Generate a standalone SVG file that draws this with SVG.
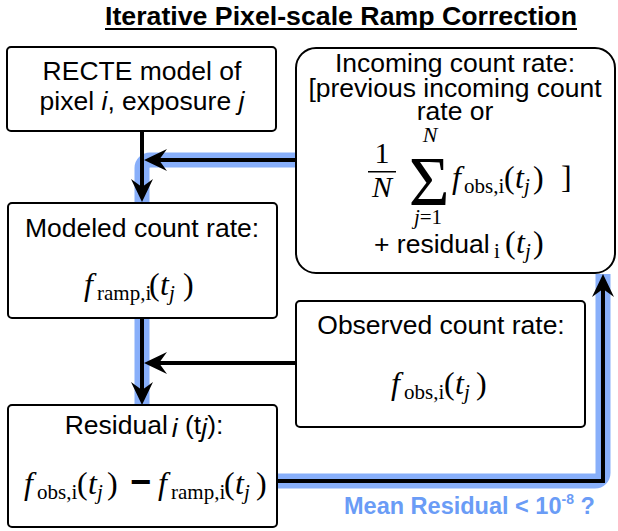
<svg xmlns="http://www.w3.org/2000/svg" width="618" height="531" viewBox="0 0 618 531">
<style>
.box{fill:#fff;stroke:#000;stroke-width:2}
.t{font-family:"Liberation Sans",Arial,Helvetica,sans-serif;font-size:26.5px;fill:#000}
.m{font-family:"Liberation Serif","Times New Roman",serif;font-size:32px;fill:#000}
.it{font-style:italic}
.sub{font-size:21px}
.band{fill:none;stroke:#88affa;stroke-width:15;stroke-linejoin:round}
.wire{fill:none;stroke:#000;stroke-width:4}
</style>
<defs>
<marker id="ah" viewBox="-24 -12 25 24" markerWidth="25" markerHeight="24" refX="-13" refY="0" orient="auto" markerUnits="userSpaceOnUse">
<path d="M0,0 L-23,-11 L-15,0 L-23,11 Z" fill="#000"/>
</marker>
</defs>

<g id="title">
<text x="105" y="25" font-family="Liberation Sans,Arial,sans-serif" font-weight="bold" font-size="26" textLength="472" lengthAdjust="spacingAndGlyphs">Iterative Pixel-scale Ramp Correction</text>
<rect x="105" y="28" width="472" height="2" fill="#000"/>
</g>

<g id="recte">
<rect class="box" x="7" y="47" width="269" height="84" rx="4"/>
<text class="t" x="142" y="80" text-anchor="middle">RECTE model of</text>
<text class="t" x="142" y="110" text-anchor="middle">pixel <tspan class="it">i</tspan>, exposure <tspan class="it">j</tspan></text>
</g>

<g id="incoming">
<rect class="box" x="296" y="48" width="319" height="225" rx="20"/>
<text class="t" x="455" y="72" text-anchor="middle">Incoming count rate:</text>
<text class="t" x="455" y="97" text-anchor="middle">[previous incoming count</text>
<text class="t" x="455" y="120" text-anchor="middle">rate or</text>
<text class="m it" x="430" y="142" style="font-size:22px" text-anchor="middle">N</text>
<text class="m" x="382" y="163" style="font-size:30px" text-anchor="middle">1</text>
<rect x="368" y="171" width="28" height="1.5" fill="#000"/>
<text class="m" x="382" y="197" style="font-size:30px;font-style:italic" text-anchor="middle">N</text>
<text class="m" x="429" y="205" style="font-size:70px" text-anchor="middle">Σ</text>
<text class="m" x="428" y="224" style="font-size:21px" text-anchor="middle"><tspan class="it">j</tspan>=1</text>
<text class="m" y="188"><tspan class="it" x="452">f</tspan><tspan class="sub" x="464" dy="5">obs,i</tspan><tspan x="504" dy="-5">(</tspan><tspan class="it" x="515">t</tspan><tspan class="it sub" x="524" dy="5">j</tspan><tspan x="533" dy="-5">)</tspan><tspan x="561">]</tspan></text>
<text class="t" x="374" y="253">+ residual</text>
<text class="m" y="253"><tspan class="sub" x="494" dy="5">i</tspan><tspan x="505" dy="-5">(</tspan><tspan class="it" x="516">t</tspan><tspan class="it sub" x="525" dy="5">j</tspan><tspan x="533" dy="-5">)</tspan></text>
</g>

<g id="modeled">
<rect class="box" x="8" y="203" width="269" height="115" rx="4"/>
<text class="t" x="142" y="237" text-anchor="middle">Modeled count rate:</text>
<text class="m" y="295"><tspan class="it" x="84">f</tspan><tspan class="sub" x="97" dy="5">ramp,i</tspan><tspan x="149" dy="-5">(</tspan><tspan class="it" x="160">t</tspan><tspan class="it sub" x="169" dy="5">j</tspan><tspan x="183" dy="-5">)</tspan></text>
</g>

<g id="observed">
<rect class="box" x="296" y="301" width="289" height="126" rx="4"/>
<text class="t" x="441" y="334" text-anchor="middle">Observed count rate:</text>
<text class="m" y="394"><tspan class="it" x="391">f</tspan><tspan class="sub" x="404" dy="5">obs,i</tspan><tspan x="444" dy="-5">(</tspan><tspan class="it" x="455">t</tspan><tspan class="it sub" x="464" dy="5">j</tspan><tspan x="476" dy="-5">)</tspan></text>
</g>

<g id="residual">
<rect class="box" x="8" y="405" width="269" height="122" rx="4"/>
<text class="t" x="144" y="434" text-anchor="middle">Residual<tspan class="it" dx="4" dy="3">i</tspan><tspan dy="-3"> (t</tspan><tspan class="it" dy="3">j</tspan><tspan dy="-3">):</tspan></text>
<text class="m" y="494"><tspan class="it" x="24">f</tspan><tspan class="sub" x="37" dy="5">obs,i</tspan><tspan x="77" dy="-5">(</tspan><tspan class="it" x="88">t</tspan><tspan class="it sub" x="97" dy="5">j</tspan><tspan x="107" dy="-5">)</tspan></text>
<text x="130" y="494" font-family="Liberation Sans,Arial,sans-serif" font-weight="bold" font-size="36">−</text>
<text class="m" y="494"><tspan class="it" x="158">f</tspan><tspan class="sub" x="171" dy="5">ramp,i</tspan><tspan x="224" dy="-5">(</tspan><tspan class="it" x="235">t</tspan><tspan class="it sub" x="244" dy="5">j</tspan><tspan x="256" dy="-5">)</tspan></text>
</g>

<g id="connectors">
<path class="band" d="M295,160 H150 A8,8 0 0 0 142,168 V202"/>
<path class="band" d="M142,319 V404"/>
<path class="band" d="M278,481 H595 A8,8 0 0 0 603,473 V274"/>
<path class="wire" d="M142,132 V189" marker-end="url(#ah)"/>
<path class="wire" d="M295,160 H157" marker-end="url(#ah)"/>
<path class="wire" d="M142,319 V392" marker-end="url(#ah)"/>
<path class="wire" d="M295,363 H157" marker-end="url(#ah)"/>
<path class="wire" d="M278,481 H603 V287" marker-end="url(#ah)"/>
<text x="344" y="514" font-family="Liberation Sans,Arial,sans-serif" font-weight="bold" font-size="23.5" fill="#6a9cf6">Mean Residual &lt; 10<tspan font-size="14" dy="-10">-8</tspan><tspan dy="10"> ?</tspan></text>
</g>
</svg>
